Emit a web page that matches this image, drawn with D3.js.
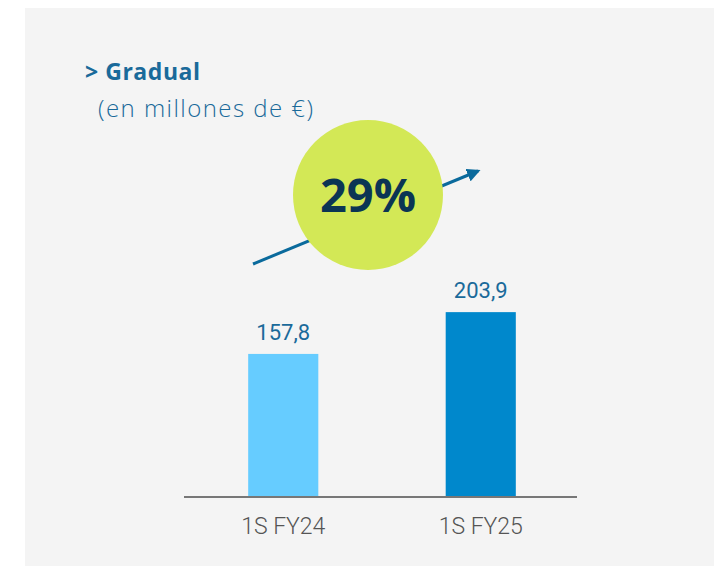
<!DOCTYPE html>
<html>
<head>
<meta charset="utf-8">
<script src="https://cdn.jsdelivr.net/npm/d3@7"></script>
<style>
  html, body { margin: 0; padding: 0; background: #fff; }
  svg { display: block; font-family: Roboto, "Noto Sans", sans-serif; }
</style>
</head>
<body>
<div id="chart"></div>
<script>
// Data
const categories = ['1S FY24', '1S FY25'];
const values = [157.8, 203.9];
const valueLabels = ['157,8', '203,9'];
const barColors = ['#66ccff', '#0088cc'];
const growthLabel = '29%';
const title = '> Gradual';
const subtitle = '(en millones de €)';

const width = 714;
const height = 566;

const svg = d3.select('#chart').append('svg')
  .attr('width', width)
  .attr('height', height);

// panel background
svg.append('rect')
  .attr('x', 25).attr('y', 8)
  .attr('width', width - 25).attr('height', height - 8)
  .attr('fill', '#f4f4f4');

// Scales
const x = d3.scaleBand()
  .domain(categories)
  .range([184, 580])
  .paddingInner(0.645)
  .paddingOuter(0.325)
  .align(0.5);

const y = d3.scaleLinear()
  .domain([0, 225])
  .range([497, 293]);

// Bars
svg.selectAll('.bar')
  .data(values)
  .enter()
  .append('rect')
  .attr('class', 'bar')
  .attr('x', (d, i) => x(categories[i]))
  .attr('y', d => y(d))
  .attr('width', x.bandwidth())
  .attr('height', d => y(0) - y(d))
  .attr('fill', (d, i) => barColors[i]);

// Value labels
svg.selectAll('.val')
  .data(values)
  .enter()
  .append('text')
  .attr('class', 'val')
  .attr('x', (d, i) => x(categories[i]) + x.bandwidth() / 2)
  .attr('y', d => y(d) - 14)
  .attr('text-anchor', 'middle')
  .attr('font-size', 22)
  .attr('fill', '#1a6a9a')
  .text((d, i) => valueLabels[i]);

// Baseline axis
const axis = svg.append('g')
  .attr('transform', 'translate(0,' + y(0) + ')')
  .call(d3.axisBottom(x).tickSize(0).tickPadding(21));
axis.select('.domain')
  .attr('d', 'M184,0H577')
  .attr('stroke', '#777').attr('stroke-width', 2);
axis.selectAll('text')
  .attr('font-size', 23)
  .attr('font-weight', 300)
  .attr('fill', '#555')
  .attr('font-family', 'Roboto, sans-serif');

// Growth arrow
const defs = svg.append('defs');
defs.append('marker')
  .attr('id', 'arrowhead')
  .attr('viewBox', '0 0 10 10')
  .attr('refX', 8).attr('refY', 5)
  .attr('markerWidth', 4.5).attr('markerHeight', 4.5)
  .attr('orient', 'auto')
  .append('path')
  .attr('d', 'M0,0 L10,5 L0,10 Z')
  .attr('fill', '#0a6a9c');

svg.append('line')
  .attr('x1', 253).attr('y1', 264)
  .attr('x2', 478).attr('y2', 171)
  .attr('stroke', '#0a6a9c')
  .attr('stroke-width', 3)
  .attr('marker-end', 'url(#arrowhead)');

// Growth bubble
svg.append('circle')
  .attr('cx', 368).attr('cy', 195)
  .attr('r', 75)
  .attr('fill', '#d3e856');

svg.append('text')
  .attr('x', 368).attr('y', 212)
  .attr('text-anchor', 'middle')
  .attr('font-size', 47)
  .attr('font-weight', 'bold')
  .attr('font-family', '"Open Sans", sans-serif')
  .attr('fill', '#0b3554')
  .text(growthLabel);

// Title
svg.append('text')
  .attr('x', 85).attr('y', 80)
  .attr('font-size', 23)
  .attr('font-weight', 'bold')
  .attr('font-family', '"Open Sans", sans-serif')
  .attr('fill', '#1a6a9a')
  .attr('textLength', 115)
  .attr('lengthAdjust', 'spacing')
  .text(title);

svg.append('text')
  .attr('x', 98).attr('y', 117)
  .attr('font-size', 24)
  .attr('font-weight', 300)
  .attr('font-family', '"Open Sans", sans-serif')
  .attr('fill', '#1a6a9a')
  .attr('textLength', 215)
  .attr('lengthAdjust', 'spacing')
  .text(subtitle);
</script>
</body>
</html>
